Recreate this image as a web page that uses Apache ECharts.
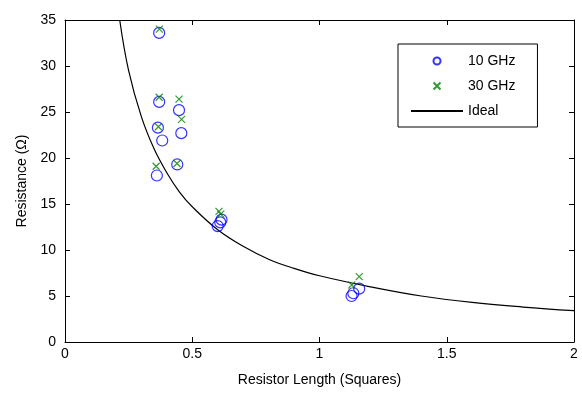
<!DOCTYPE html>
<html>
<head>
<meta charset="utf-8">
<script src="https://cdn.jsdelivr.net/npm/echarts@6/dist/echarts.min.js"></script>
<style>
  html, body { margin: 0; padding: 0; background: #fff; }
  #main { width: 582px; height: 397px; }
</style>
</head>
<body>
<div id="main"></div>
<script>
var len10 = [0.370, 0.370, 0.448, 0.365, 0.382, 0.457, 0.441, 0.361, 0.600, 0.610, 0.615, 1.126, 1.133, 1.156]
var res10 = [33.6, 26.1, 25.2, 23.3, 21.9, 22.7, 19.3, 18.1, 12.6, 13.0, 13.3, 5.0, 5.3, 5.8]
var len30 = [0.371, 0.370, 0.448, 0.458, 0.367, 0.440, 0.358, 0.605, 0.612, 1.127, 1.156]
var res30 = [34.0, 26.6, 26.4, 24.2, 23.4, 19.4, 19.1, 14.2, 13.9, 6.2, 7.1]
// ideal curve, read at a few lengths
var idealLen = [0.215, 0.25, 0.3, 0.35, 0.4, 0.45, 0.5, 0.6, 0.7, 0.8, 0.9, 1.0, 1.2, 1.4, 1.6, 1.8, 2.0]
var idealRes = [35, 29.5, 24.5, 21.0, 18.4, 16.3, 14.7, 12.2, 10.4, 9.0, 8.0, 7.2, 6.0, 5.0, 4.3, 3.8, 3.4]

function zip (xs, ys) {
  return xs.map(function (x, i) { return [x, ys[i]] })
}

var font = 'Liberation Sans, Arial, sans-serif'
var crossPath = 'path://M0,0L10,10M10,0L0,10'

// box axes (top / right) just mirror the ticks
function mirrorAxis (extra) {
  return Object.assign({
    type: 'value',
    axisLine: { show: true, onZero: false, lineStyle: { color: '#000', width: 1 } },
    axisTick: { show: true, inside: true, length: 5, lineStyle: { color: '#000' } },
    axisLabel: { show: false },
    splitLine: { show: false }
  }, extra)
}

var chart = echarts.init(document.getElementById('main'))
chart.setOption({
  animation: false,
  backgroundColor: '#fff',
  grid: { left: 65, right: 8, top: 20, bottom: 55 },
  xAxis: [{
    type: 'value',
    min: 0,
    max: 2,
    interval: 0.5,
    name: 'Resistor Length (Squares)',
    nameLocation: 'middle',
    nameGap: 31,
    nameTextStyle: { color: '#000', fontSize: 14, fontFamily: font },
    axisLine: { onZero: false, lineStyle: { color: '#000', width: 1 } },
    axisTick: { inside: true, length: 5, lineStyle: { color: '#000' } },
    axisLabel: { color: '#000', fontSize: 14, fontFamily: font, margin: 5 },
    splitLine: { show: false }
  }, mirrorAxis({ position: 'top', min: 0, max: 2, interval: 0.5 })],
  yAxis: [{
    type: 'value',
    min: 0,
    max: 35,
    interval: 5,
    name: 'Resistance (\u03A9)',
    nameLocation: 'middle',
    nameGap: 36,
    nameTextStyle: { color: '#000', fontSize: 14, fontFamily: font },
    axisLine: { onZero: false, lineStyle: { color: '#000', width: 1 } },
    axisTick: { inside: true, length: 5, lineStyle: { color: '#000' } },
    axisLabel: { color: '#000', fontSize: 14, fontFamily: font, margin: 9 },
    splitLine: { show: false }
  }, mirrorAxis({ position: 'right', min: 0, max: 35, interval: 5 })],
  legend: {
    orient: 'vertical',
    left: 398,
    top: 44,
    padding: [10, 22, 9, 12],
    itemGap: 11,
    itemWidth: 52,
    itemHeight: 7,
    borderColor: '#000',
    borderWidth: 1,
    backgroundColor: '#fff',
    textStyle: { color: '#000', fontSize: 14, fontFamily: font },
    data: ['10 GHz', '30 GHz', { name: 'Ideal', itemStyle: { opacity: 0 } }]
  },
  series: [{
    name: '10 GHz',
    type: 'scatter',
    data: zip(len10, res10),
    symbol: 'circle',
    symbolSize: 11,
    itemStyle: { color: 'transparent', borderColor: '#0000ff', borderWidth: 1.2 },
    z: 3
  }, {
    name: '30 GHz',
    type: 'scatter',
    data: zip(len30, res30),
    symbol: crossPath,
    symbolSize: 7,
    itemStyle: { color: 'transparent', borderColor: '#008000', borderWidth: 1.2 },
    z: 4
  }, {
    name: 'Ideal',
    type: 'line',
    data: zip(idealLen, idealRes),
    smooth: 0.4,
    symbol: 'none',
    clip: true,
    itemStyle: { color: '#000' },
    lineStyle: { color: '#000', width: 1.2 },
    z: 2
  }]
})
</script>
</body>
</html>
